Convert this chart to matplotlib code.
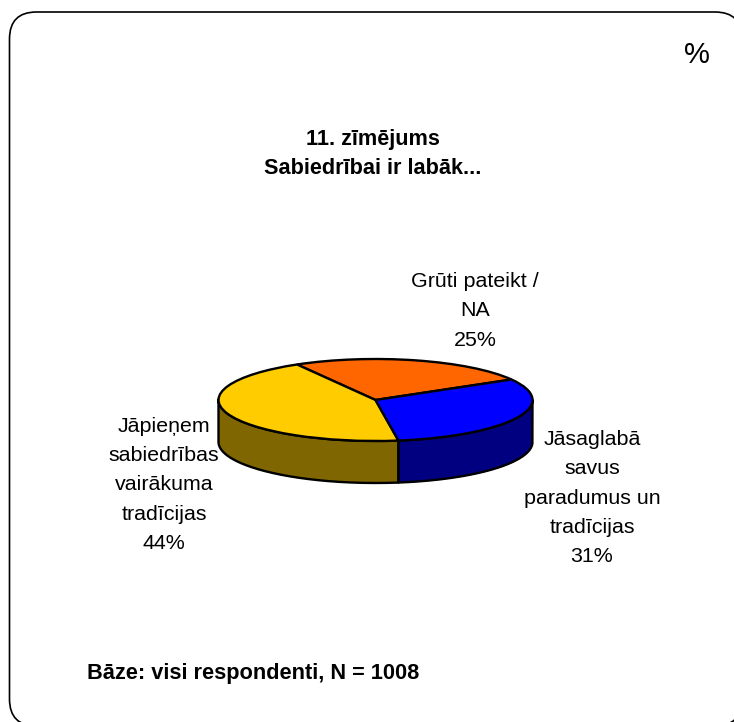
import numpy as np
import matplotlib
matplotlib.use("Agg")
import matplotlib.pyplot as plt
from matplotlib.patches import FancyBboxPatch

plt.rcParams['font.family'] = ['Liberation Sans', 'DejaVu Sans']

labels = ["Grūti pateikt /\nNA\n25%",
          "Jāpieņem\nsabiedrības\nvairākuma\ntradīcijas\n44%",
          "Jāsaglabā\nsavus\nparadumus un\ntradīcijas\n31%"]
shares = [25, 44, 31]
top_colors = ["#FF6600", "#FFCC00", "#0000FF"]
side_colors = ["#996633", "#806600", "#000080"]
title = "11. zīmējums\nSabiedrībai ir labāk..."
base_note = "Bāze: visi respondenti, N = 1008"

W, H = 734, 722
fig = plt.figure(figsize=(W / 100, H / 100), dpi=100, facecolor="white")

# page axes in pixels, y goes down
page = fig.add_axes([0, 0, 1, 1])
page.set_xlim(0, W)
page.set_ylim(H, 0)
page.axis("off")
frame = FancyBboxPatch((9.5, 12), 732.5, 714, boxstyle="round,pad=0,rounding_size=27",
                       fc="white", ec="black", lw=1.2)
page.add_patch(frame)

page.text(697, 55, "%", fontsize=21, ha="center", va="center")
page.text(373, 154, title, fontsize=15.6, fontweight="bold", ha="center", va="center", linespacing=1.55)
page.text(87, 673, base_note, fontsize=15.7, fontweight="bold", ha="left", va="center")
page.text(475, 311, labels[0], fontsize=15.4, ha="center", va="center", linespacing=1.67)
page.text(164, 485, labels[1], fontsize=15.4, ha="center", va="center", linespacing=1.67)
page.text(592, 498, labels[2], fontsize=15.4, ha="center", va="center", linespacing=1.67)

# pie sits in its own axes, squashed to an ellipse
cx, cy, a, b, depth = 375.5, 400, 157, 41, 42
ax = fig.add_axes([(cx - a) / W, 1 - (cy + b + depth) / H, 2 * a / W, (2 * b + depth) / H])
ax.patch.set_alpha(0)
ax.pie(shares, colors=top_colors, startangle=30, counterclock=True, radius=1,
       wedgeprops=dict(edgecolor="black", linewidth=1.7), normalize=True)
ax.set_aspect("auto")
ax.set_xlim(-1, 1)
ax.set_ylim(-1 - depth / b, 1)

# side wall, only the part of each slice facing the viewer
start = 30.0
for share, color in zip(shares, side_colors):
    end = start + share * 3.6
    lo, hi = max(start, 180), min(end, 360)
    if hi > lo:
        t = np.radians(np.linspace(lo, hi, 200))
        x, y = np.cos(t), np.sin(t)
        ax.fill_between(x, y, y - depth / b, color=color, zorder=0, lw=0)
        ax.plot(np.r_[x, x[::-1], x[0]], np.r_[y, y[::-1] - depth / b, y[0]],
                color="black", lw=1.7, zorder=0.5, clip_on=False)
    start = end

fig.savefig("out.png", dpi=100)
